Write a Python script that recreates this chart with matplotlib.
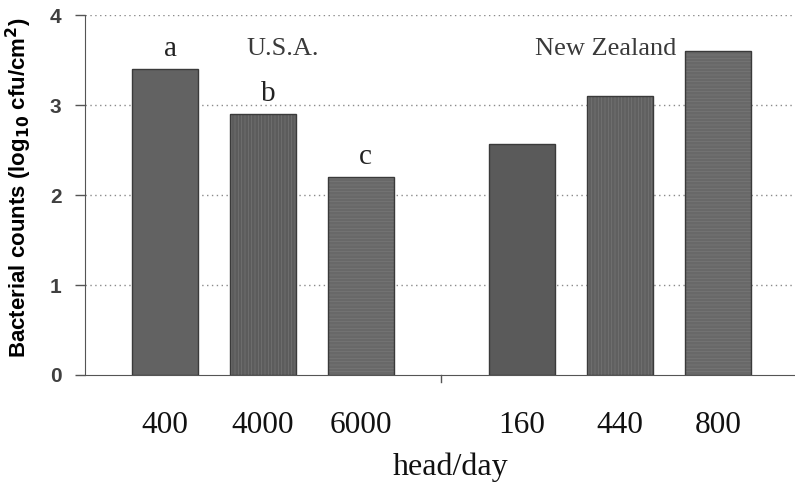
import matplotlib
matplotlib.use("Agg")
import matplotlib.pyplot as plt

categories = ["400", "4000", "6000", "160", "440", "800"]
values = [3.4, 2.9, 2.2, 2.57, 3.1, 3.6]
positions = [0, 1, 2, 3.65, 4.65, 5.65]
letters = ["a", "b", "c", "", "", ""]
colors = ["#626262", "#5c5c5c", "#686868", "#5a5a5a", "#606060", "#686868"]
hatches = ["", "|||||", "-----", "", "|||||", "-----"]
yticks = [0, 1, 2, 3, 4]

plt.rcParams["hatch.linewidth"] = 0.4

fig = plt.figure(figsize=(7.95, 4.88), dpi=100)
ax = fig.add_axes([0.107, 0.2316, 0.893, 0.7374])

serif = "Liberation Serif"
sans = "Liberation Sans"

# filled bars with texture
ax.bar(positions, values, width=0.67, color=colors, edgecolor="#7a7a7a",
       hatch=hatches, linewidth=0, zorder=3)
# outlines
ax.bar(positions, values, width=0.67, fill=False, edgecolor="#3a3a3a",
       linewidth=1.0, zorder=4)

for y in yticks[1:]:
    ax.axhline(y, color="#8a8a8a", linestyle=(0, (1, 2.5)), linewidth=1.0, zorder=1)

for p, v, l in zip(positions, values, letters):
    if l:
        ax.text(p + 0.05, v + 0.08, l, ha="center", va="bottom", family=serif,
                fontsize=21, color="#222222")

ax.text(1.2, 3.5, "U.S.A.", ha="center", va="bottom", family=serif, fontsize=19, color="#3a3a3a")
ax.text(4.5, 3.5, "New Zealand", ha="center", va="bottom", family=serif, fontsize=19, color="#3a3a3a")

ax.set_xlim(-0.82, 6.44)
ax.set_ylim(0, 4)
ax.set_xticks(positions)
ax.set_xticklabels(categories, family=serif, fontsize=22.5, color="#111111")
ax.tick_params(axis="x", length=0, pad=26)
ax.set_yticks(yticks)
ax.set_yticklabels([str(t) for t in yticks], family=sans, fontweight="bold", fontsize=15, color="#404040")
ax.tick_params(axis="y", length=7, width=1, color="#555555", pad=10)

for s in ["top", "right"]:
    ax.spines[s].set_visible(False)
ax.spines["left"].set_color("#555555")
ax.spines["bottom"].set_color("#555555")

ax.set_ylabel(r"Bacterial counts (log$_{\mathbf{10}}$ cfu/cm$^{\mathbf{2}}$)", family=sans,
              fontweight="bold", fontsize=16)
ax.yaxis.set_label_coords(-0.072, 0.52)
ax.set_xlabel("head/day", family=serif, fontsize=23, color="#111111")
ax.xaxis.set_label_coords(0.515, -0.215)

ax.plot([2.82, 2.82], [0, -0.08], color="#555555", linewidth=1, clip_on=False)

fig.savefig("out.png", dpi=100)
